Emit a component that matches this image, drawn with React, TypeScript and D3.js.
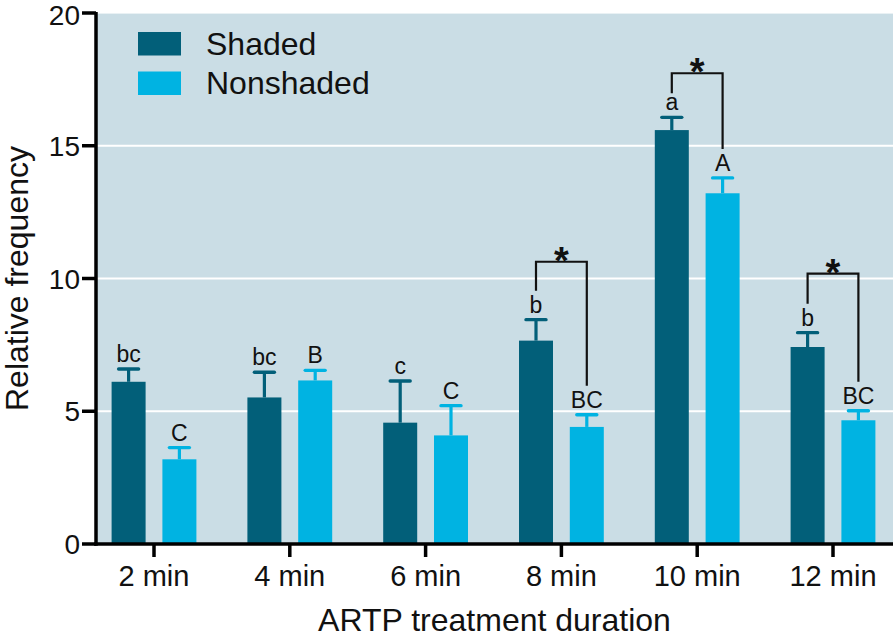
import React from "react";
import * as d3 from "d3";

const categories = ["2 min", "4 min", "6 min", "8 min", "10 min", "12 min"];
const shadedMeans = [6.11, 5.52, 4.57, 7.66, 15.59, 7.42];
const shadedErr = [6.59, 6.47, 6.14, 8.45, 16.07, 7.96];
const nonshadedMeans = [3.19, 6.16, 4.09, 4.41, 13.21, 4.66];
const nonshadedErr = [3.63, 6.54, 5.21, 4.87, 13.79, 5.02];
const shadedLetters = ["bc", "bc", "c", "b", "a", "b"];
const nonshadedLetters = ["C", "B", "C", "BC", "A", "BC"];
const sigCategories = ["8 min", "10 min", "12 min"];
const sigLevels = [10.63, 17.73, 10.18];
const yTicks = [0, 5, 10, 15, 20];
const seriesNames = ["Shaded", "Nonshaded"];

const W = 896;
const H = 638;
const DARK = "#025f79";
const LIGHT = "#00b3e2";
const BG = "#cadde5";
const FONT = "Arial, 'Liberation Sans', Helvetica, sans-serif";

export default function App() {
  const left = 96;
  const right = 893;
  const top = 13;
  const bottom = 544;
  const y = d3.scaleLinear().domain([0, 20]).range([bottom, top]);
  const x = d3.scalePoint<string>().domain(categories).range([154, 833]);
  const off = 25.4;
  const bw = 34;
  const cap = 20;

  const hasAsc = (s: string) => /[A-Zbdfhklt]/.test(s);
  const letterBase = (v: number) => y(v) - 7;
  const letterTop = (v: number, s: string) => letterBase(v) - (hasAsc(s) ? 17 : 12);

  const series = [
    { color: DARK, means: shadedMeans, errs: shadedErr, letters: shadedLetters, dx: -off },
    { color: LIGHT, means: nonshadedMeans, errs: nonshadedErr, letters: nonshadedLetters, dx: off },
  ];

  return (
    <svg width={W} height={H} style={{ position: "absolute", left: 0, top: 0, background: "#fff" }} fontFamily={FONT}>
      <rect x={left} y={top} width={right - left} height={bottom - top} fill={BG} />
      {yTicks.filter((t) => t > 0).map((t) => (
        <line key={t} x1={left} x2={right} y1={y(t)} y2={y(t)} stroke="#fff" strokeWidth={2} opacity={t === 20 ? 0.6 : 1} />
      ))}
      {series.map((s, si) =>
        categories.map((c, i) => {
          const cx = (x(c) as number) + s.dx;
          return (
            <g key={`${si}-${i}`}>
              <line x1={cx} x2={cx} y1={y(s.means[i])} y2={y(s.errs[i])} stroke={s.color} strokeWidth={3.2} />
              <line x1={cx - cap / 2} x2={cx + cap / 2} y1={y(s.errs[i])} y2={y(s.errs[i])} stroke={s.color} strokeWidth={3.4} strokeLinecap="round" />
              <rect x={cx - bw / 2} y={y(s.means[i])} width={bw} height={y(0) - y(s.means[i])} fill={s.color} />
              <text x={cx} y={letterBase(s.errs[i])} textAnchor="middle" fontSize={23} fill="#111">
                {s.letters[i]}
              </text>
            </g>
          );
        })
      )}
      {sigCategories.map((c, k) => {
        const i = categories.indexOf(c);
        const xl = (x(c) as number) - off;
        const xr = (x(c) as number) + off;
        const yb = y(sigLevels[k]);
        const yl = letterTop(shadedErr[i], shadedLetters[i]) - 5;
        const yr = letterTop(nonshadedErr[i], nonshadedLetters[i]) - 5;
        return (
          <g key={c}>
            <path d={`M${xl},${yl}V${yb}H${xr}V${yr}`} fill="none" stroke="#111" strokeWidth={2.2} />
            <text x={(xl + xr) / 2} y={yb + 12} textAnchor="middle" fontSize={38} fontWeight="bold" fill="#111">
              *
            </text>
          </g>
        );
      })}
      {/* axes */}
      <line x1={left} x2={left} y1={top - 1} y2={bottom + 1.75} stroke="#000" strokeWidth={3.5} />
      <line x1={left - 1.75} x2={right} y1={bottom} y2={bottom} stroke="#000" strokeWidth={3.5} />
      {yTicks.map((t) => (
        <g key={t}>
          <line x1={left - 14} x2={left} y1={y(t)} y2={y(t)} stroke="#000" strokeWidth={3.5} />
          <text x={80} y={Math.max(y(t), 15)} dy="0.36em" textAnchor="end" fontSize={28} fill="#111">
            {t}
          </text>
        </g>
      ))}
      {categories.map((c) => (
        <g key={c}>
          <line x1={x(c)} x2={x(c)} y1={bottom} y2={bottom + 13} stroke="#000" strokeWidth={3.5} />
          <text x={x(c)} y={586} textAnchor="middle" fontSize={29} fill="#111">
            {c}
          </text>
        </g>
      ))}
      <text x={(left + right) / 2} y={631} textAnchor="middle" fontSize={32} fill="#111">
        ARTP treatment duration
      </text>
      <text transform={`translate(28,${(top + bottom) / 2}) rotate(-90)`} textAnchor="middle" fontSize={32} fill="#111">
        Relative frequency
      </text>
      {/* legend */}
      {seriesNames.map((n, i) => (
        <g key={n}>
          <rect x={138} y={32 + i * 39.5} width={43} height={23.5} fill={i === 0 ? DARK : LIGHT} />
          <text x={206} y={54.5 + i * 39.8} fontSize={32} fill="#111">
            {n}
          </text>
        </g>
      ))}
    </svg>
  );
}
